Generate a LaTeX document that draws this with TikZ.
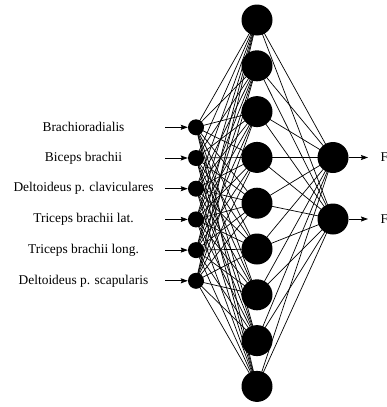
\documentclass[tikz,border=0pt]{standalone}
\usepackage{fontspec}
\setmainfont{Liberation Serif}
\usetikzlibrary{arrows.meta,positioning}

\begin{document}
\begin{tikzpicture}[x=1pt,y=-1pt,
  neuron/.style={circle, fill=black, inner sep=0pt},
  innode/.style={neuron, minimum size=16pt},
  hidnode/.style={neuron, minimum size=31pt},
  outnode/.style={neuron, minimum size=31pt},
  muscle/.style={font=\fontsize{13.4}{15}\selectfont},
  weight/.style={line width=0.7pt},
  signal/.style={-{Stealth[length=7pt,width=5pt,inset=1pt]}, line width=0.8pt}
]
\useasboundingbox (0,0) rectangle (387,407);

% input layer
\foreach \name [count=\i] in {Brachioradialis, Biceps brachii,
    Deltoideus p. claviculares, Triceps brachii lat.,
    Triceps brachii long., Deltoideus p. scapularis} {
  \pgfmathsetmacro{\yy}{127.3+30.7*(\i-1)}
  \node[muscle] (lbl\i) at (83.5,\yy) {\name};
  \coordinate (src\i) at (165,\yy);
  \node[innode] (in\i) at (196,\yy) {};
  \draw[signal] (src\i) -- (in\i);
}

% hidden layer
\foreach \i in {1,...,9} {
  \pgfmathsetmacro{\yy}{20+45.8*(\i-1)}
  \node[hidnode] (hid\i) at (257,\yy) {};
}

% output layer
\node[outnode] (out1) at (333,157.5) {};
\node[outnode] (out2) at (333,219) {};
\coordinate (dst1) at (368,157.5);
\coordinate (dst2) at (368,219);
\node[muscle, anchor=west] (f1) at (377,157.5) {F};
\node[muscle, anchor=west] (f2) at (377,219) {F};
\draw[signal] (out1) -- (dst1);
\draw[signal] (out2) -- (dst2);

% weights
\foreach \i in {1,...,6}
  \foreach \j in {1,...,9}
    \draw[weight] (in\i.center) -- (hid\j.center);
\foreach \j in {1,...,9}
  \foreach \k in {1,2}
    \draw[weight] (hid\j.center) -- (out\k.center);
\end{tikzpicture}
\end{document}
